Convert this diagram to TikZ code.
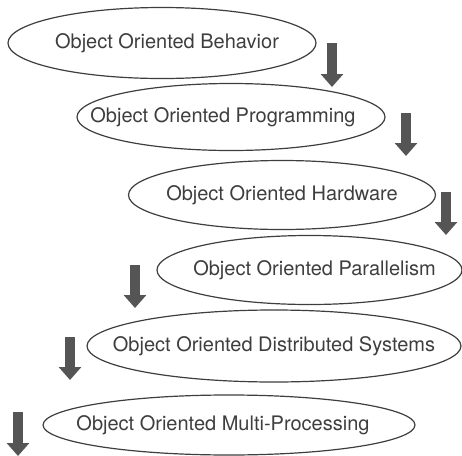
\documentclass[tikz,border=0pt]{standalone}
\usepackage{fontspec}
\setmainfont{TeX Gyre Heros}
\usepackage{tikz}
\usetikzlibrary{positioning}
\usetikzlibrary{arrows.meta}
\usetikzlibrary{shapes.geometric}
\definecolor{inkgray}{RGB}{62,62,62}
\definecolor{arrowgray}{RGB}{85,85,85}
% text that does not widen its ellipse, optionally shifted sideways
\newcommand{\ootext}[2][0pt]{\makebox[0pt]{\hspace*{#1}#2\hspace*{-#1}}}

\begin{document}
\begin{tikzpicture}[x=0.5pt, y=-0.5pt, >=latex,
  topic/.style={ellipse, draw=inkgray, line width=0.6pt, text=inkgray, inner sep=0pt, font=\fontsize{10}{12}\selectfont},
  down/.style={arrowgray, line width=5pt, -{Triangle[width=11pt,length=6.5pt]}}]

\useasboundingbox (0,0) rectangle (462,456);

\node [topic, minimum width=154pt, minimum height=35.5pt] (ob) at (162,43) {\ootext[2.5pt]{Object Oriented Behavior}};
\node [topic, minimum width=154pt, minimum height=33.5pt] (op) at (231,117) {\ootext[-4pt]{Object Oriented Programming}};
\node [topic, minimum width=153.5pt, minimum height=34.5pt] (oh) at (282,195) {\ootext{Object Oriented Hardware}};
\node [topic, minimum width=152.5pt, minimum height=34.5pt] (opar) at (309.5,270) {\ootext[2.5pt]{Object Oriented Parallelism}};
\node [topic, minimum width=187pt, minimum height=36pt] (ods) at (274,346) {\ootext{Object Oriented Distributed Systems}};
\node [topic, minimum width=186pt, minimum height=30pt] (omp) at (229,425) {\ootext[-3pt]{Object Oriented Multi-Processing}};

% block arrows beside the ellipses
\coordinate (ob top) at (332,43);
\coordinate (ob tip) at (332,87);
\coordinate (op top) at (406,113);
\coordinate (op tip) at (406,156);
\coordinate (oh top) at (446,192);
\coordinate (oh tip) at (446,235);
\coordinate (opar top) at (135,265);
\coordinate (opar tip) at (135,308);
\coordinate (ods top) at (70,337);
\coordinate (ods tip) at (70,380);
\coordinate (omp top) at (18,412);
\coordinate (omp tip) at (18,456);

\draw [down] (ob top) -- (ob tip);
\draw [down] (op top) -- (op tip);
\draw [down] (oh top) -- (oh tip);
\draw [down] (opar top) -- (opar tip);
\draw [down] (ods top) -- (ods tip);
\draw [down] (omp top) -- (omp tip);

\end{tikzpicture}
\end{document}
